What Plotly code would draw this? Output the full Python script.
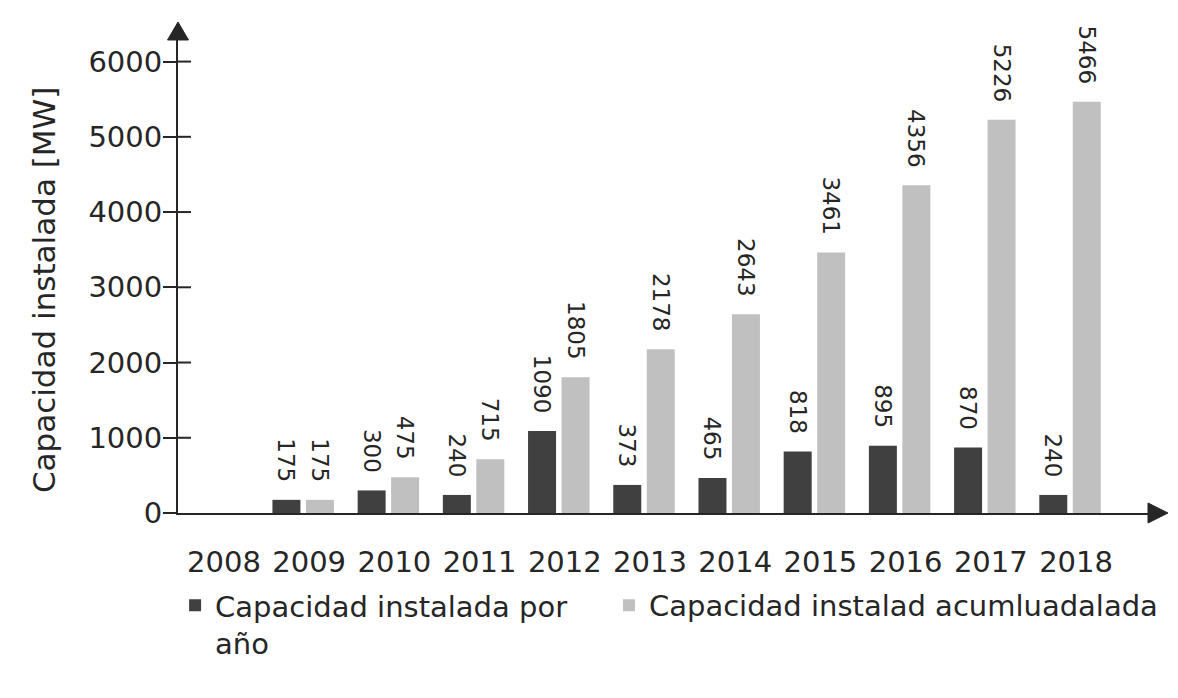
import plotly.graph_objects as go

years = ["2008", "2009", "2010", "2011", "2012", "2013", "2014", "2015", "2016", "2017", "2018"]
annual = [None, 175, 300, 240, 1090, 373, 465, 818, 895, 870, 240]
cumulative = [None, 175, 475, 715, 1805, 2178, 2643, 3461, 4356, 5226, 5466]
y_ticks = [0, 1000, 2000, 3000, 4000, 5000, 6000]

name_annual = "Capacidad instalada por\u00a0\u00a0\u00a0\u00a0<br>año"
name_cum = "Capacidad instalad acumluadalada"
y_title = "Capacidad instalada [MW]"

DARK = "#404040"
LIGHT = "#c0c0c0"
TXT = "#262626"
FONT = "DejaVu Sans, Verdana, sans-serif"

def labels(vals):
    return [None if v is None else f"{v}\u00a0\u00a0" for v in vals]

fig = go.Figure()
fig.add_trace(go.Bar(
    x=years, y=annual, name=name_annual, marker=dict(color=DARK, line=dict(width=0)),
    text=labels(annual), textposition="outside", textangle=90, constraintext="none",
    cliponaxis=False, textfont=dict(size=23, color=TXT, family=FONT),
))
fig.add_trace(go.Bar(
    x=years, y=cumulative, name=name_cum, marker=dict(color=LIGHT, line=dict(width=0)),
    text=labels(cumulative), textposition="outside", textangle=90, constraintext="none",
    cliponaxis=False, textfont=dict(size=23, color=TXT, family=FONT),
))

shapes = []
# inside part of y ticks (ticks cross the axis)
for t in y_ticks[1:]:
    shapes.append(dict(type="line", xref="paper", yref="y", x0=0, x1=0.0134, y0=t, y1=t,
                       line=dict(color=TXT, width=2)))
# arrowheads
shapes.append(dict(type="path", xref="paper", yref="paper",
                   path="M 0,1.0359 L -0.0108,0.9979 L 0.0108,0.9979 Z",
                   fillcolor=TXT, line=dict(color=TXT, width=1)))
shapes.append(dict(type="path", xref="paper", yref="paper",
                   path="M 1.0206,0 L 1.0,0.0211 L 1.0,-0.0211 Z",
                   fillcolor=TXT, line=dict(color=TXT, width=1)))

fig.update_layout(
    width=1178, height=698,
    margin=dict(l=178, r=30, t=39, b=185, autoexpand=False),
    paper_bgcolor="white", plot_bgcolor="white",
    barmode="group", bargap=0.214, bargroupgap=0.164,
    font=dict(family=FONT, color=TXT, size=29),
    xaxis=dict(
        type="category", range=[-0.469, 10.915], showgrid=False, zeroline=False,
        showline=True, linecolor=TXT, linewidth=2,
        ticks="outside", ticklen=22, tickcolor="rgba(0,0,0,0)",
        ticklabelshift=6,
        tickfont=dict(size=29, color=TXT, family=FONT),
    ),
    yaxis=dict(
        range=[0, 6300], tickvals=y_ticks, showgrid=False, zeroline=False,
        showline=True, linecolor=TXT, linewidth=2,
        ticks="outside", ticklen=13, tickwidth=2, tickcolor=TXT,
        ticklabelstandoff=-5,
        tickfont=dict(size=29, color=TXT, family=FONT),
    ),
    legend=dict(
        orientation="h", x=-0.003, xanchor="left", y=-0.141, yanchor="top",
        valign="top",
        font=dict(size=29, color=TXT, family=FONT), traceorder="normal",
        bgcolor="rgba(0,0,0,0)",
    ),
    showlegend=True,
    shapes=shapes,
    annotations=[dict(
        text=y_title, xref="paper", yref="paper", x=-0.138, y=0.4705,
        xanchor="center", yanchor="middle", textangle=-90, showarrow=False,
        font=dict(size=31, color=TXT, family=FONT),
    )],
)

fig.write_html("out.html", config={"displayModeBar": False},
               post_script="document.body.style.margin='0px';")
